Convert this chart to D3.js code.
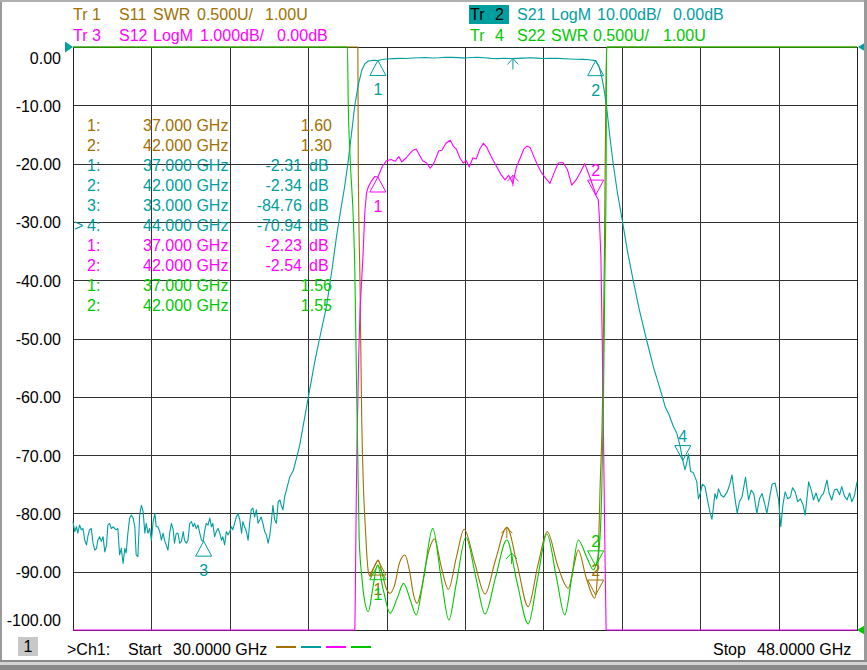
<!DOCTYPE html>
<html>
<head>
<meta charset="utf-8">
<script src="https://cdnjs.cloudflare.com/ajax/libs/d3/7.8.5/d3.min.js"></script>
<style>
  body { margin: 0; background: #fff; }
  svg { display: block; }
  text { font-family: "Liberation Sans", Arial, sans-serif; font-size: 16px; }
</style>
</head>
<body>
<div id="chart"></div>
<script>
// sweep + grid
const freqStart = 30, freqStop = 48;
const xTicks = [30, 31.8, 33.6, 35.4, 37.2, 39, 40.8, 42.6, 44.4, 46.2, 48];
const yTicks = [0, -10, -20, -30, -40, -50, -60, -70, -80, -90, -100];

// Tr 1  S11 SWR  [GHz, SWR]
const s11 = [[30.00,9],[36.54,9],[36.55,5.0],[36.59,3.96],[36.63,2.78],[36.67,2.2],[36.70,1.96],[36.74,1.68],
  [36.78,1.50],[36.82,1.46],[36.90,1.53],[37.01,1.60],[37.10,1.48],[37.20,1.35],[37.28,1.315],[37.38,1.38],
  [37.50,1.58],[37.62,1.643],[37.72,1.52],[37.82,1.30],[37.90,1.229],[38.00,1.35],[38.15,1.65],[38.30,1.78],
  [38.45,1.55],[38.62,1.349],[38.80,1.62],[38.98,1.864],[39.22,1.58],[39.46,1.309],[39.70,1.60],[39.96,1.881],
  [40.20,1.56],[40.45,1.20],[40.67,1.55],[40.89,1.843],[41.13,1.55],[41.37,1.358],[41.50,1.55],[41.60,1.686],
  [41.78,1.45],[41.98,1.272],[42.03,1.40],[42.06,1.63],[42.10,2.2],[42.16,3.0],[42.20,4.2],[42.24,5.8],
  [42.26,9],[48.00,9]];

// Tr 2  S21 LogM  [GHz, dB]
const s21 = [[30.00,-81.4],[30.04,-83.1],[30.08,-82.3],[30.11,-83.4],[30.15,-82.0],[30.19,-82.8],[30.23,-82.6],
  [30.27,-84.6],[30.31,-85.4],[30.34,-84.0],[30.38,-82.8],[30.42,-82.6],[30.46,-85.1],[30.50,-86.3],[30.54,-86.0],
  [30.57,-84.6],[30.61,-84.0],[30.65,-84.8],[30.69,-84.0],[30.73,-86.6],[30.77,-85.4],[30.80,-82.0],[30.84,-81.7],
  [30.88,-82.6],[30.92,-82.3],[30.96,-82.6],[30.99,-82.8],[31.03,-82.6],[31.07,-87.1],[31.11,-86.0],[31.15,-88.6],
  [31.19,-86.0],[31.22,-86.8],[31.26,-83.4],[31.30,-80.8],[31.34,-80.3],[31.38,-80.8],[31.42,-82.3],[31.45,-87.1],
  [31.49,-87.4],[31.53,-80.3],[31.57,-78.6],[31.61,-79.7],[31.65,-83.4],[31.68,-81.7],[31.72,-83.4],[31.76,-82.6],
  [31.80,-84.6],[31.84,-81.4],[31.88,-80.0],[31.91,-82.3],[31.95,-82.3],[31.99,-83.1],[32.03,-84.6],[32.07,-83.4],
  [32.10,-84.6],[32.14,-85.4],[32.18,-86.3],[32.22,-83.4],[32.26,-81.7],[32.30,-82.8],[32.33,-85.1],[32.37,-83.4],
  [32.41,-83.4],[32.45,-85.1],[32.49,-84.8],[32.53,-83.1],[32.56,-84.6],[32.60,-85.1],[32.64,-84.6],[32.68,-81.7],
  [32.72,-81.4],[32.76,-82.3],[32.79,-81.7],[32.83,-82.6],[32.87,-82.0],[32.91,-83.4],[32.95,-84.6],[32.99,-84.8],
  [33.02,-83.1],[33.06,-81.7],[33.10,-82.0],[33.14,-80.8],[33.18,-82.3],[33.21,-81.7],[33.25,-84.0],[33.29,-83.1],
  [33.33,-82.6],[33.37,-83.4],[33.41,-84.6],[33.44,-84.0],[33.48,-85.4],[33.52,-83.1],[33.56,-83.7],[33.60,-83.1],
  [33.64,-82.3],[33.67,-82.8],[33.71,-81.7],[33.75,-80.6],[33.79,-80.0],[33.83,-81.1],[33.87,-83.4],[33.90,-81.4],
  [33.94,-82.3],[33.98,-83.1],[34.02,-84.6],[34.06,-81.4],[34.09,-79.4],[34.13,-79.1],[34.17,-80.6],[34.21,-79.4],
  [34.25,-81.7],[34.29,-81.1],[34.32,-80.6],[34.36,-81.7],[34.40,-83.1],[34.44,-83.7],[34.48,-85.1],[34.52,-83.7],
  [34.55,-81.7],[34.59,-78.6],[34.63,-81.1],[34.67,-81.7],[34.71,-78.0],[34.75,-77.7],[34.78,-78.6],[34.82,-79.4],
  [34.86,-77.1],[34.90,-76.0],[34.94,-74.8],[34.98,-73.7],[35.06,-72.6],[35.20,-68.5],[35.40,-60.2],[35.55,-54.0],
  [35.67,-49.7],[35.82,-44.5],[35.95,-38.0],[36.05,-32.5],[36.15,-27.8],[36.24,-23.8],[36.32,-19.5],[36.40,-14.5],
  [36.47,-10.0],[36.55,-6.5],[36.63,-4.0],[36.70,-2.9],[36.78,-2.4],[36.90,-2.3],[37.00,-2.31],[37.10,-2.15],
  [37.20,-2.05],[37.35,-2.0],[37.50,-1.95],[37.65,-1.98],[37.80,-1.88],[37.95,-1.85],[38.10,-1.80],[38.25,-1.88],
  [38.40,-1.85],[38.55,-1.75],[38.70,-1.78],[38.85,-1.82],[39.00,-1.90],[39.15,-1.80],[39.30,-1.78],[39.45,-1.85],
  [39.60,-1.95],[39.75,-2.0],[39.90,-1.92],[40.05,-1.98],[40.20,-1.95],[40.35,-1.90],[40.50,-1.85],[40.65,-1.90],
  [40.80,-1.97],[40.95,-1.95],[41.10,-1.92],[41.25,-2.0],[41.40,-2.05],[41.55,-2.1],[41.70,-2.12],[41.85,-2.2],
  [42.00,-2.34],[42.08,-3.4],[42.15,-5.5],[42.20,-7.6],[42.25,-10.2],[42.32,-15.0],[42.40,-19.9],[42.50,-25.0],
  [42.61,-29.7],[42.73,-35.0],[42.86,-40.0],[43.00,-45.0],[43.17,-50.3],[43.33,-55.0],[43.51,-59.4],[43.60,-61.8],
  [43.68,-63.0],[43.78,-65.0],[43.86,-66.2],[43.94,-68.5],[44.00,-70.9],[44.05,-72.5],[44.09,-71.4],[44.13,-69.8],
  [44.18,-72.8],[44.24,-73.0],[44.32,-74.5],[44.36,-77.5],[44.40,-76.6],[44.45,-75.0],[44.51,-75.4],[44.57,-77.8],
  [44.63,-80.0],[44.67,-81.0],[44.74,-76.6],[44.78,-77.5],[44.82,-75.8],[44.88,-76.9],[44.94,-77.2],[45.02,-76.3],
  [45.08,-75.0],[45.13,-73.4],[45.19,-77.0],[45.25,-80.0],[45.30,-78.0],[45.36,-77.2],[45.40,-75.5],[45.44,-73.8],
  [45.51,-77.7],[45.57,-76.0],[45.63,-76.6],[45.70,-80.0],[45.76,-77.5],[45.82,-76.6],[45.88,-78.3],[45.93,-80.0],
  [46.00,-77.0],[46.05,-75.0],[46.12,-74.8],[46.20,-77.7],[46.25,-82.3],[46.30,-78.5],[46.35,-76.3],[46.41,-77.5],
  [46.47,-77.2],[46.52,-75.6],[46.58,-76.3],[46.64,-78.0],[46.70,-77.5],[46.76,-78.5],[46.81,-80.3],[46.89,-74.6],
  [46.95,-76.0],[47.00,-77.7],[47.06,-76.5],[47.12,-78.0],[47.18,-77.0],[47.23,-76.6],[47.31,-74.3],[47.36,-76.5],
  [47.42,-77.7],[47.48,-76.0],[47.54,-75.8],[47.60,-76.8],[47.65,-75.4],[47.71,-77.0],[47.77,-77.7],[47.83,-76.5],
  [47.88,-78.0],[47.94,-77.0],[48.00,-74.6]];

// Tr 3  S12 LogM  [GHz, dB]
const s12 = [[30.00,-12],[36.47,-12],[36.48,-9.5],[36.50,-8.0],[36.52,-6.8],[36.56,-5.3],[36.59,-4.5],[36.66,-3.55],
  [36.70,-2.83],[36.74,-2.5],[36.78,-2.40],[36.85,-2.30],[36.93,-2.22],[37.00,-2.23],[37.10,-2.05],[37.20,-1.95],
  [37.30,-1.93],[37.40,-1.96],[37.48,-1.88],[37.55,-1.97],[37.65,-1.90],[37.74,-1.82],[37.81,-1.77],[37.88,-1.75],
  [37.95,-1.85],[38.03,-1.95],[38.12,-1.99],[38.20,-2.08],[38.28,-2.0],[38.40,-1.78],[38.47,-1.77],[38.56,-1.65],
  [38.66,-1.60],[38.73,-1.70],[38.80,-1.75],[38.88,-1.90],[38.96,-1.99],[39.03,-1.95],[39.10,-2.06],[39.18,-1.90],
  [39.26,-1.92],[39.34,-1.75],[39.42,-1.65],[39.50,-1.72],[39.60,-1.88],[39.73,-2.06],[39.82,-2.18],[39.92,-2.28],
  [40.00,-2.20],[40.10,-2.34],[40.18,-2.06],[40.27,-1.90],[40.35,-1.75],[40.42,-1.70],[40.50,-1.73],[40.58,-1.88],
  [40.68,-2.05],[40.76,-2.16],[40.85,-2.25],[40.95,-2.34],[41.05,-2.15],[41.14,-1.99],[41.25,-1.98],[41.35,-2.10],
  [41.45,-2.37],[41.55,-2.28],[41.65,-2.15],[41.75,-2.00],[41.85,-2.20],[41.92,-2.35],[41.98,-2.48],[42.00,-2.54],
  [42.06,-2.62],[42.08,-2.85],[42.12,-3.6],[42.15,-5.0],[42.18,-6.7],[42.21,-8.5],[42.24,-10.5],[42.26,-12],[48.00,-12]];

// Tr 4  S22 SWR  [GHz, SWR]
const s22 = [[30.00,9],[36.28,9],[36.30,6.0],[36.32,5.5],[36.36,5.07],[36.44,4.48],[36.47,4.09],[36.51,3.11],
  [36.54,2.45],[36.57,1.79],[36.63,1.46],[36.70,1.24],[36.78,1.157],[36.88,1.35],[36.99,1.557],[37.12,1.35],
  [37.28,1.143],[37.45,1.28],[37.59,1.40],[37.75,1.25],[37.88,1.129],[38.05,1.45],[38.26,1.872],[38.45,1.45],
  [38.63,1.086],[38.80,1.40],[39.02,1.795],[39.25,1.45],[39.46,1.137],[39.70,1.45],[39.96,1.772],[40.20,1.40],
  [40.45,1.052],[40.67,1.45],[40.88,1.823],[41.10,1.45],[41.29,1.129],[41.45,1.45],[41.60,1.772],[41.80,1.62],
  [41.95,1.514],[42.00,1.55],[42.08,1.7],[42.14,2.2],[42.18,3.0],[42.21,4.0],[42.24,4.9],[42.25,6.2],[48.00,9]];

// markers: [trace, number, GHz, value, triangle direction]
const markerList = [
  ['s11', 1, 37, 1.60, 'up'], ['s11', 2, 42, 1.30, 'down'],
  ['s21', 1, 37, -2.31, 'up'], ['s21', 2, 42, -2.34, 'up'], ['s21', 3, 33, -84.76, 'up'], ['s21', 4, 44, -70.94, 'down'],
  ['s12', 1, 37, -2.23, 'up'], ['s12', 2, 42, -2.54, 'down'],
  ['s22', 1, 37, 1.56, 'up'], ['s22', 2, 42, 1.55, 'down']
];
// small arrow marks sitting on each trace
const arrowList = [['s11', 39.96, 1.881], ['s21', 40.10, -1.97], ['s12', 40.10, -2.2], ['s22', 40.07, 1.66]];

// marker readout table
const tableRows = [
  ['s11', '', '1:', '37.000 GHz', '1.60', ''],
  ['s11', '', '2:', '42.000 GHz', '1.30', ''],
  ['s21', '', '1:', '37.000 GHz', '-2.31', 'dB'],
  ['s21', '', '2:', '42.000 GHz', '-2.34', 'dB'],
  ['s21', '', '3:', '33.000 GHz', '-84.76', 'dB'],
  ['s21', '>', '4:', '44.000 GHz', '-70.94', 'dB'],
  ['s12', '', '1:', '37.000 GHz', '-2.23', 'dB'],
  ['s12', '', '2:', '42.000 GHz', '-2.54', 'dB'],
  ['s22', '', '1:', '37.000 GHz', '1.56', ''],
  ['s22', '', '2:', '42.000 GHz', '1.55', '']
];

const colors = { s11: '#a07000', s21: '#009e9e', s12: '#ff00ff', s22: '#00c800' };

// display units: 10 per division, 0 at top line, -100 at bottom line
const toDisp = {
  s11: v => -100 + (v - 1.0) / 0.5 * 10,   // SWR 0.500U/ ref 1.00U at bottom
  s22: v => -100 + (v - 1.0) / 0.5 * 10,
  s21: v => (v - 0) / 10 * 10,             // LogM 10 dB/ ref 0 at top
  s12: v => (v - 0) / 1 * 10               // LogM 1 dB/ ref 0 at top
};

const W = 867, H = 670;
const plotL = 73, plotR = 857, plotT = 47, plotB = 630;

const svg = d3.select('#chart').append('svg').attr('width', W).attr('height', H);
svg.append('rect').attr('width', W).attr('height', H).attr('fill', '#fff');

const x = d3.scaleLinear().domain([freqStart, freqStop]).range([plotL, plotR]);
const y = d3.scaleLinear().domain([-100, 0]).range([plotB, plotT]).clamp(true);

// grid
svg.append('g')
  .attr('transform', `translate(0,${plotB})`)
  .call(d3.axisBottom(x).tickValues(xTicks).tickSize(-(plotB - plotT)).tickFormat(''))
  .call(g => g.select('.domain').remove())
  .call(g => g.selectAll('line').attr('stroke', '#333').attr('shape-rendering', 'crispEdges'));

svg.append('g')
  .attr('transform', `translate(${plotL},0)`)
  .call(d3.axisLeft(y).tickValues(yTicks).tickSize(-(plotR - plotL)).tickPadding(12).tickFormat(d => d.toFixed(2)))
  .call(g => g.select('.domain').remove())
  .call(g => g.selectAll('line').attr('stroke', '#333').attr('shape-rendering', 'crispEdges'))
  .call(g => g.selectAll('text')
    .attr('fill', '#000').attr('font-size', 16).attr('font-family', '"Liberation Sans", Arial, sans-serif')
    .attr('dy', d => d === 0 ? '1em' : d === -100 ? '-0.3em' : '0.38em'));

svg.append('rect').attr('x', plotL).attr('y', plotT).attr('width', plotR - plotL).attr('height', plotB - plotT)
  .attr('fill', 'none').attr('stroke', '#222').attr('shape-rendering', 'crispEdges');

// traces
const traces = [['s11', s11, true], ['s21', s21, false], ['s12', s12, false], ['s22', s22, true]];
traces.forEach(([id, data, smooth]) => {
  const line = d3.line()
    .x(d => x(d[0]))
    .y(d => y(toDisp[id](d[1])))
    .curve(smooth ? d3.curveMonotoneX : d3.curveLinear);
  svg.append('path').datum(data)
    .attr('d', line)
    .attr('fill', 'none')
    .attr('stroke', colors[id])
    .attr('stroke-width', 1.1)
    .attr('stroke-linejoin', 'round');
});

// arrows
arrowList.forEach(([id, f, v]) => {
  const px = x(f), py = y(toDisp[id](v));
  svg.append('path')
    .attr('d', `M${px},${py}V${py + 11}M${px - 5.5},${py + 6}L${px},${py}L${px + 5.5},${py + 6}`)
    .attr('fill', 'none').attr('stroke', colors[id]);
});

// markers
markerList.forEach(([id, n, f, v, dir]) => {
  const px = x(f), py = y(toDisp[id](v));
  const s = dir === 'up' ? 1 : -1;
  svg.append('path')
    .attr('d', `M${px},${py}L${px - 8},${py + s * 15}L${px + 8},${py + s * 15}Z`)
    .attr('fill', 'none').attr('stroke', colors[id]);
  svg.append('text')
    .attr('x', px).attr('y', dir === 'up' ? py + 35 : py - 19)
    .attr('text-anchor', 'middle').attr('fill', colors[id]).text(n);
});

// reference position arrows
svg.append('path').attr('d', 'M65,41.5L73,47L65,52.5Z').attr('fill', colors.s21);
svg.append('path').attr('d', 'M867,41.5L858,47L867,52.5Z').attr('fill', colors.s21);
svg.append('path').attr('d', 'M867,624L857,630L867,636Z').attr('fill', colors.s22);

// marker table
const table = svg.append('g');
tableRows.forEach((r, i) => {
  const by = 131 + i * 20, c = colors[r[0]];
  if (r[1]) table.append('text').attr('x', 74).attr('y', by).attr('fill', c).text(r[1]);
  table.append('text').attr('x', 87).attr('y', by).attr('fill', c).text(r[2]);
  table.append('text').attr('x', 143).attr('y', by).attr('fill', c).text(r[3]);
  if (r[5]) {
    table.append('text').attr('x', 302).attr('y', by).attr('text-anchor', 'end').attr('fill', c).text(r[4]);
    table.append('text').attr('x', 309).attr('y', by).attr('fill', c).text(r[5]);
  } else {
    table.append('text').attr('x', 332).attr('y', by).attr('text-anchor', 'end').attr('fill', c).text(r[4]);
  }
});

// trace headers
const header = (parts, by, c) => parts.forEach(([px, t]) =>
  svg.append('text').attr('x', px).attr('y', by).attr('fill', c).text(t));
header([[73, 'Tr'], [92, '1'], [119, 'S11'], [153, 'SWR'], [197, '0.500U/'], [265, '1.00U']], 20, colors.s11);
header([[73, 'Tr'], [92, '3'], [119, 'S12'], [153, 'LogM'], [200, '1.000dB/'], [277, '0.00dB']], 41, colors.s12);
svg.append('rect').attr('x', 469).attr('y', 5).attr('width', 40).attr('height', 19).attr('fill', colors.s21);
header([[470, 'Tr'], [495, '2']], 20, '#000');
header([[517, 'S21'], [551, 'LogM'], [597, '10.00dB/'], [673, '0.00dB']], 20, colors.s21);
header([[470, 'Tr'], [495, '4'], [517, 'S22'], [551, 'SWR'], [593, '0.500U/'], [663, '1.00U']], 41, colors.s22);

// status line
svg.append('rect').attr('x', 18).attr('y', 637).attr('width', 20).attr('height', 19).attr('fill', '#c8c8c8');
svg.append('text').attr('x', 28).attr('y', 652).attr('text-anchor', 'middle').attr('fill', '#000').text('1');
header([[67, '>Ch1:'], [128, 'Start'], [173, '30.0000 GHz'], [713, 'Stop'], [757, '48.0000 GHz']], 655, '#000');
[['s11', 276], ['s21', 301], ['s12', 326], ['s22', 351]].forEach(([id, x0]) =>
  svg.append('line').attr('x1', x0).attr('x2', x0 + 20).attr('y1', 647).attr('y2', 647)
    .attr('stroke', colors[id]).attr('stroke-width', 2));

// window frame
svg.append('rect').attr('x', 0).attr('y', 0).attr('width', 2).attr('height', 660).attr('fill', '#9a9a9a');
svg.append('rect').attr('x', 0).attr('y', 0).attr('width', W).attr('height', 2).attr('fill', '#b0b0b0');
svg.append('rect').attr('x', 864).attr('y', 0).attr('width', 3).attr('height', 660).attr('fill', '#9a9a9a');
svg.append('rect').attr('x', 0).attr('y', 660).attr('width', W).attr('height', 10).attr('fill', '#8a8a8a');
svg.append('rect').attr('x', 0).attr('y', 662).attr('width', W).attr('height', 3).attr('fill', '#d4d4d4');
</script>
</body>
</html>
